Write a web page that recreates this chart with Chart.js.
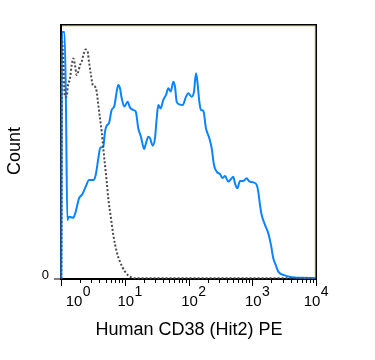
<!DOCTYPE html>
<html>
<head>
<meta charset="utf-8">
<title>Human CD38 (Hit2) PE</title>
<script src="https://cdn.jsdelivr.net/npm/chart.js@4/dist/chart.umd.min.js"></script>
<style>
  body { margin: 0; background: #fff; }
  #chartdiv { width: 375px; height: 360px; }
</style>
</head>
<body>
<div id="chartdiv"><canvas id="myChart" width="375" height="360"></canvas></div>
<script>
// stained sample (blue, solid)
var stainedX = [1.011, 1.037, 1.135, 1.198, 1.256, 1.335, 1.559, 1.701, 1.916, 2.159,
  2.44, 2.75, 3.21, 3.50, 3.85, 4.14, 4.61, 4.90, 5.21, 5.66,
  6.24, 6.86, 7.48, 7.92, 8.42, 8.96, 9.84, 11.1, 12.1, 13.6,
  14.9, 16.3, 18.0, 20.1, 21.5, 23.4, 24.9, 27.5, 29.8, 31.7,
  33.6, 36.6, 40.2, 44.4, 48.2, 52.6, 57.8, 61.4, 65.3, 71.7,
  81.1, 91.4, 99.3, 112, 122, 131, 137, 148, 157, 171,
  188, 212, 231, 251, 277, 312, 344, 374, 421, 464,
  504, 536, 583, 642, 724, 818, 889, 1039, 1174, 1244,
  1323, 1407, 1585, 1786, 1969, 2139, 2333, 2563, 3070, 4157,
  5610, 10000];
var stainedCount = [0, 96.9, 96.9, 67.1, 23.1, 24.4, 24.0, 26.4, 31.6, 33.2,
  36.2, 38.8, 38.8, 40.8, 47.3, 51.5, 51.9, 57.8, 60.1, 61.1,
  66.3, 67.8, 73.5, 76.1, 74.8, 70.9, 67.6, 69.5, 67.2, 66.3,
  65.6, 59.1, 55.7, 51.0, 53.2, 55.8, 55.2, 52.3, 55.2, 63.0,
  68.2, 66.9, 70.2, 72.2, 74.8, 73.5, 77.4, 75.4, 69.5, 68.5,
  68.2, 71.5, 72.8, 71.5, 73.5, 80.7, 78.0, 69.5, 66.3, 65.9,
  59.1, 55.2, 51.3, 44.7, 42.1, 41.1, 39.6, 40.4, 38.2, 39.2,
  40.1, 37.5, 35.6, 38.4, 38.4, 39.5, 38.4, 37.9, 36.9, 34.2,
  29.0, 25.1, 21.2, 17.9, 13.3, 8.1, 5.5, 2.9, 1.6, 0.7,
  0.5, 0.4];

// isotype control (grey, dotted)
var isotypeX = [1.011, 1.037, 1.155, 1.228, 1.274, 1.384, 1.472, 1.559, 1.658, 1.763,
  1.868, 1.986, 2.112, 2.238, 2.44, 2.623, 2.75, 2.955, 3.143, 3.415,
  3.631, 3.847, 4.091, 4.349, 4.608, 4.899, 5.211, 5.521, 6.085, 6.613,
  7.476, 8.424, 10.09, 12.09, 14.48, 10000];
var isotypeCount = [0, 93.7, 71.4, 71.5, 75.4, 78.7, 83.9, 86.5, 83.9, 80.0,
  81.3, 83.9, 85.2, 87.8, 90.0, 89.1, 85.2, 80.0, 76.1, 75.4,
  73.5, 68.2, 63.0, 57.8, 51.3, 44.7, 38.2, 31.6, 23.8, 17.3,
  10.7, 6.8, 2.9, 0.9, 0.3, 0.3];

var decadeTicks = [1, 10, 100, 1000, 10000];
var decadeExp = ['0', '1', '2', '3', '4'];
var countTicks = [0];
var countTickLabels = ['0'];
var xTitle = 'Human CD38 (Hit2) PE';
var yTitle = 'Count';

var fontName = '"Liberation Sans", Arial, sans-serif';

function toPoints(xs, ys) {
  var pts = [];
  for (var i = 0; i < xs.length; i++) {
    pts.push({ x: xs[i], y: ys[i] });
  }
  return pts;
}

//........................ frame, ticks and titles ........................
const flowAxes = {
  id: 'flowAxes',
  beforeDatasetsDraw(chart) {
    var ctx = chart.ctx;
    var a = chart.chartArea;
    ctx.save();
    // left + bottom axis lines, curves go on top of them
    ctx.strokeStyle = '#000';
    ctx.lineWidth = 2;
    ctx.beginPath();
    ctx.moveTo(a.left, a.top);
    ctx.lineTo(a.left, a.bottom);
    ctx.lineTo(a.right + 1, a.bottom);
    ctx.stroke();
    ctx.restore();
  },
  afterDatasetsDraw(chart) {
    var ctx = chart.ctx;
    var a = chart.chartArea;
    ctx.save();
    // yellowish inner line on top / right
    ctx.strokeStyle = '#d6d69a';
    ctx.lineWidth = 1;
    ctx.beginPath();
    ctx.moveTo(a.left + 1, a.top + 2);
    ctx.lineTo(a.right - 1, a.top + 2);
    ctx.moveTo(a.right - 1, a.top + 1);
    ctx.lineTo(a.right - 1, a.bottom - 1);
    ctx.stroke();

    ctx.strokeStyle = '#000';
    ctx.lineWidth = 1.5;
    ctx.beginPath();
    ctx.moveTo(a.left - 1, a.top + 0.75);
    ctx.lineTo(a.right + 0.25, a.top + 0.75);
    ctx.lineTo(a.right + 0.25, a.bottom);
    ctx.stroke();
    ctx.restore();
  },
  afterDraw(chart) {
    var ctx = chart.ctx;
    var a = chart.chartArea;
    var xs = chart.scales.x;
    var ys = chart.scales.y;
    ctx.save();
    ctx.strokeStyle = '#000';
    ctx.lineWidth = 1;

    // x ticks, majors + 2..9 minors
    ctx.beginPath();
    for (var i = 0; i < decadeTicks.length; i++) {
      var px = Math.round(xs.getPixelForValue(decadeTicks[i])) + 0.5;
      ctx.moveTo(px, a.bottom);
      ctx.lineTo(px, a.bottom + 7);
      if (i < decadeTicks.length - 1) {
        for (var m = 2; m < 10; m++) {
          var mx = Math.round(xs.getPixelForValue(decadeTicks[i] * m)) + 0.5;
          ctx.moveTo(mx, a.bottom);
          ctx.lineTo(mx, a.bottom + 4);
        }
      }
    }
    // y ticks
    for (var j = 0; j < countTicks.length; j++) {
      var py = ys.getPixelForValue(countTicks[j]);
      ctx.moveTo(a.left - 7, py);
      ctx.lineTo(a.left, py);
    }
    ctx.stroke();

    ctx.fillStyle = '#000';
    // y tick labels
    ctx.font = '13px ' + fontName;
    ctx.textAlign = 'right';
    ctx.textBaseline = 'alphabetic';
    for (var j = 0; j < countTicks.length; j++) {
      var py = ys.getPixelForValue(countTicks[j]);
      ctx.fillText(countTickLabels[j], a.left - 12, py - 0.5);
    }

    // x tick labels as 10 with a raised exponent
    for (var i = 0; i < decadeTicks.length; i++) {
      var px = xs.getPixelForValue(decadeTicks[i]);
      var cx = px + 1;
      if (cx < a.left + 13) cx = a.left + 13;
      if (cx > a.right - 4) cx = a.right - 4;
      ctx.font = '15px ' + fontName;
      var w = ctx.measureText('10').width;
      ctx.textAlign = 'center';
      ctx.fillText('10', cx, a.bottom + 27);
      ctx.font = '14px ' + fontName;
      ctx.textAlign = 'left';
      ctx.fillText(decadeExp[i], cx + w / 2 + 0.5, a.bottom + 17);
    }

    // axis titles
    ctx.font = '18px ' + fontName;
    ctx.textAlign = 'center';
    ctx.fillText(xTitle, (a.left + a.right) / 2 + 0.5, 335);

    ctx.translate(20, 151);
    ctx.rotate(-Math.PI / 2);
    ctx.fillText(yTitle, 0, 0);
    ctx.restore();
  }
};

const myChart = new Chart(document.getElementById('myChart'), {
  type: 'line',
  data: {
    datasets: [
      {
        label: 'Isotype',
        data: toPoints(isotypeX, isotypeCount),
        borderColor: '#4a4a4a',
        borderWidth: 2,
        borderDash: [2, 2],
        pointRadius: 0,
        fill: false,
        cubicInterpolationMode: 'monotone',
        clip: 4
      },
      {
        label: 'CD38 PE',
        data: toPoints(stainedX, stainedCount),
        borderColor: '#0a84ff',
        borderWidth: 2,
        pointRadius: 0,
        fill: false,
        cubicInterpolationMode: 'monotone',
        clip: 4
      }
    ]
  },
  options: {
    responsive: false,
    animation: false,
    devicePixelRatio: 1,
    layout: {
      padding: { left: 61, right: 59, top: 24, bottom: 81 }
    },
    scales: {
      x: { type: 'logarithmic', min: 1, max: 10000, display: false },
      y: { type: 'linear', min: 0, max: 100, display: false }
    },
    plugins: {
      legend: { display: false },
      tooltip: { enabled: false }
    }
  },
  plugins: [flowAxes]
});
</script>
</body>
</html>
